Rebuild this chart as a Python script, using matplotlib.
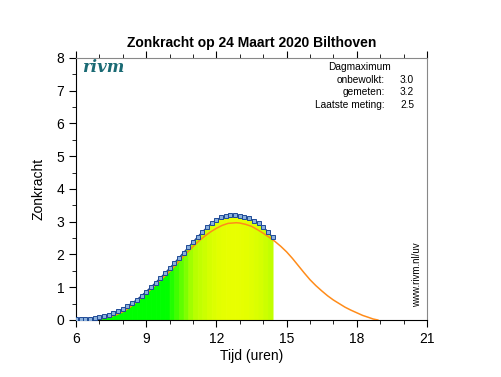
import matplotlib.pyplot as plt
import matplotlib as mtpl
from matplotlib.colors import LinearSegmentedColormap
from matplotlib.ticker import MultipleLocator
import numpy as np

mtpl.rcParams['font.family'] = ['Liberation Sans', 'DejaVu Sans']

# measured sun strength, every 12 minutes
meas_time = ["06:00", "06:12", "06:24", "06:36", "06:48", "07:00", "07:12", "07:24", "07:36", "07:48",
             "08:00", "08:12", "08:24", "08:36", "08:48", "09:00", "09:12", "09:24", "09:36", "09:48",
             "10:00", "10:12", "10:24", "10:36", "10:48", "11:00", "11:12", "11:24", "11:36", "11:48",
             "12:00", "12:12", "12:24", "12:36", "12:48", "13:00", "13:12", "13:24", "13:36", "13:48",
             "14:00", "14:12", "14:24"]
meas_value = [0.02, 0.02, 0.03, 0.04, 0.06, 0.09, 0.12, 0.16, 0.21, 0.27,
              0.34, 0.43, 0.52, 0.62, 0.74, 0.87, 1.00, 1.14, 1.28, 1.43,
              1.58, 1.74, 1.90, 2.06, 2.22, 2.38, 2.54, 2.69, 2.83, 2.96,
              3.06, 3.13, 3.17, 3.20, 3.20, 3.18, 3.15, 3.10, 3.03, 2.95,
              2.84, 2.70, 2.52]

# clear sky (onbewolkt) curve
clear_time = [6.8, 7.0, 7.25, 7.5, 7.75, 8.0, 8.25, 8.5, 8.75, 9.0, 9.25, 9.5, 9.75, 10.0,
              10.25, 10.5, 10.75, 11.0, 11.25, 11.5, 11.75, 12.0, 12.25, 12.5, 12.85,
              13.0, 13.25, 13.5, 13.75, 14.0, 14.25, 14.5, 14.75, 15.0, 15.25, 15.5, 15.75,
              16.0, 16.25, 16.5, 16.75, 17.0, 17.25, 17.5, 17.75, 18.0, 18.25, 18.5, 18.7, 18.9]
clear_value = [0.0, 0.03, 0.06, 0.11, 0.17, 0.25, 0.36, 0.50, 0.65, 0.81, 0.97, 1.14, 1.31, 1.48,
               1.67, 1.87, 2.06, 2.24, 2.41, 2.56, 2.69, 2.80, 2.89, 2.95, 2.97,
               2.96, 2.92, 2.86, 2.76, 2.65, 2.53, 2.40, 2.25, 2.08, 1.88, 1.66, 1.44,
               1.23, 1.05, 0.89, 0.74, 0.61, 0.50, 0.39, 0.30, 0.22, 0.14, 0.08, 0.03, 0.0]

info_labels = ["onbewolkt:", "gemeten:", "Laatste meting:"]
info_values = ["3.0", "3.2", "2.5"]

t = np.array([int(s[:2]) + int(s[3:]) / 60 for s in meas_time])
v = np.array(meas_value)

uv_cmap = LinearSegmentedColormap.from_list(
    'uv', [(0, '#00ff00'), (1.5 / 4, '#00ff00'), (2.4 / 4, '#b4ff00'), (3.2 / 4, '#e8ff00'), (1, '#ffff00')])

fig = plt.figure(figsize=(5.02, 3.77), dpi=100)
ax = fig.add_axes([0.1514, 0.1512, 0.6992, 0.695])

# gradient fill under the measurements
for i in range(len(t) - 1):
    c = uv_cmap(min((v[i] + v[i + 1]) / 2 / 4, 1))
    ax.fill_between(t[i:i + 2], 0, v[i:i + 2], color=c, linewidth=0.6, zorder=1)

ax.plot(clear_time, clear_value, color='#ff8c1a', linewidth=1.1, zorder=3)
ax.plot(t, v, color='#1f3f8f', linewidth=0.9, marker='s', markersize=3.0,
        markerfacecolor='#8ab0dc', markeredgecolor='#1f4a96', markeredgewidth=0.7, zorder=4)

ax.set_xlim(6, 21)
ax.set_ylim(0, 8)
ax.xaxis.set_major_locator(MultipleLocator(3))
ax.xaxis.set_minor_locator(MultipleLocator(1))
ax.yaxis.set_major_locator(MultipleLocator(1))
ax.yaxis.set_minor_locator(MultipleLocator(0.5))
ax.tick_params(which='both', direction='out', top=True, right=False, labelsize=10)
ax.tick_params(which='major', length=5)
ax.tick_params(which='minor', length=3)
ax.spines['top'].set_color('#888888')
ax.spines['right'].set_color('#888888')

ax.set_title('Zonkracht op 24 Maart 2020 Bilthoven', fontsize=10, fontweight='bold', pad=8)
ax.set_xlabel('Tijd (uren)', fontsize=10, labelpad=2)
ax.set_ylabel('Zonkracht', fontsize=10, labelpad=8)

ax.text(0.018, 0.962, 'rivm', transform=ax.transAxes, fontsize=12, family='DejaVu Serif',
        style='italic', fontweight='bold', color='#1a6a74', va='center')

ax.text(0.718, 0.966, 'Dagmaximum', transform=ax.transAxes, fontsize=7.3, va='center')
for k, (lab, val) in enumerate(zip(info_labels, info_values)):
    y = 0.917 - k * 0.048
    ax.text(0.880, y, lab, transform=ax.transAxes, fontsize=7.3, va='center', ha='right')
    ax.text(0.923, y, val, transform=ax.transAxes, fontsize=7.3, va='center', ha='left')

ax.text(0.985, 0.05, 'www.rivm.nl/uv', transform=ax.transAxes, fontsize=7, rotation=90,
        ha='right', va='bottom')

plt.savefig('out.png', dpi=100)
plt.close()
